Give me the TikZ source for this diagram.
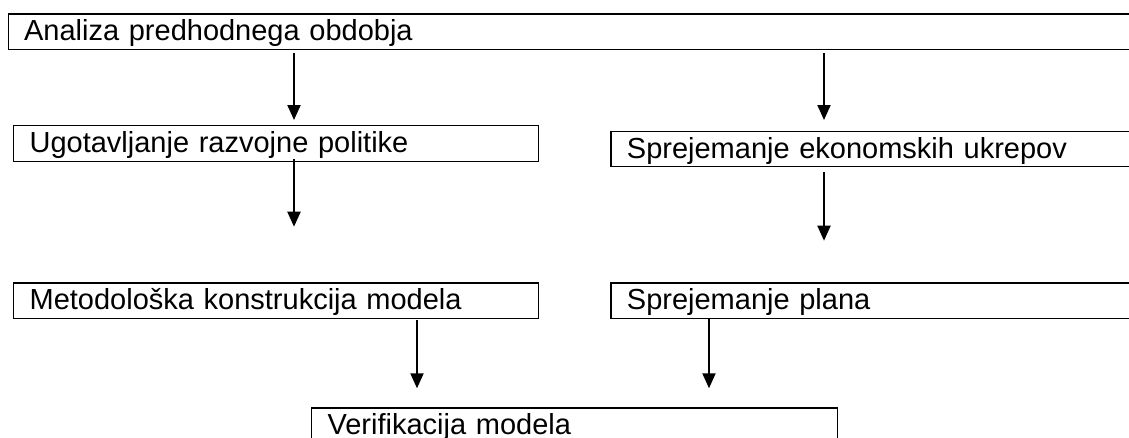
\documentclass[tikz,border=0pt]{standalone}
\usepackage{fontspec}
\setmainfont{Liberation Sans}
\usetikzlibrary{arrows.meta}

\tikzset{
  stage/.style={draw=black, line width=1.2pt, anchor=north west,
    inner xsep=16pt, inner ysep=0pt, align=left,
    text height=27pt, text depth=8.5pt,
    font=\fontsize{29}{34}\selectfont},
  flow/.style={line width=2pt,
    -{Triangle[length=15pt,width=13pt]}},
}

\begin{document}
\begin{tikzpicture}[x=1pt, y=-1pt]
  \useasboundingbox (0,0) rectangle (1129,437);
  \clip (0,0) rectangle (1129,437);

  % stages of the planning process
  \node[stage, text width=1100pt] (analiza) at (7.5,13.3) {Analiza predhodnega obdobja};
  \node[stage, text width=493pt] (politika) at (13,125) {Ugotavljanje razvojne politike};
  \node[stage, text width=500pt] (ukrepi) at (610.3,130.7) {Sprejemanje ekonomskih ukrepov};
  \node[stage, text width=493pt] (model) at (13,282.3) {Metodološka konstrukcija modela};
  \node[stage, text width=500pt] (plan) at (610.3,282.3) {Sprejemanje plana};
  \node[stage, text width=494pt, text depth=30pt] (verif) at (311,407.3) {Verifikacija modela};

  % arrows between the stages
  \draw[flow, shorten <=3pt, shorten >=5pt]
    (analiza.south -| 294,0) -- (politika.north -| 294,0);
  \draw[flow, shorten <=3pt, shorten >=10.7pt]
    (analiza.south -| 824,0) -- (ukrepi.north -| 824,0);
  \draw[flow, shorten <=-3pt, shorten >=55.6pt]
    (politika.south -| 294,0) -- (model.north -| 294,0);
  \draw[flow, shorten <=5pt, shorten >=41.6pt]
    (ukrepi.south -| 824,0) -- (plan.north -| 824,0);
  \draw[flow, shorten <=1pt, shorten >=19pt]
    (model.south -| 417,0) -- (verif.north -| 417,0);
  \draw[flow, shorten >=19pt]
    (plan.south -| 709,0) -- (verif.north -| 709,0);
\end{tikzpicture}
\end{document}
